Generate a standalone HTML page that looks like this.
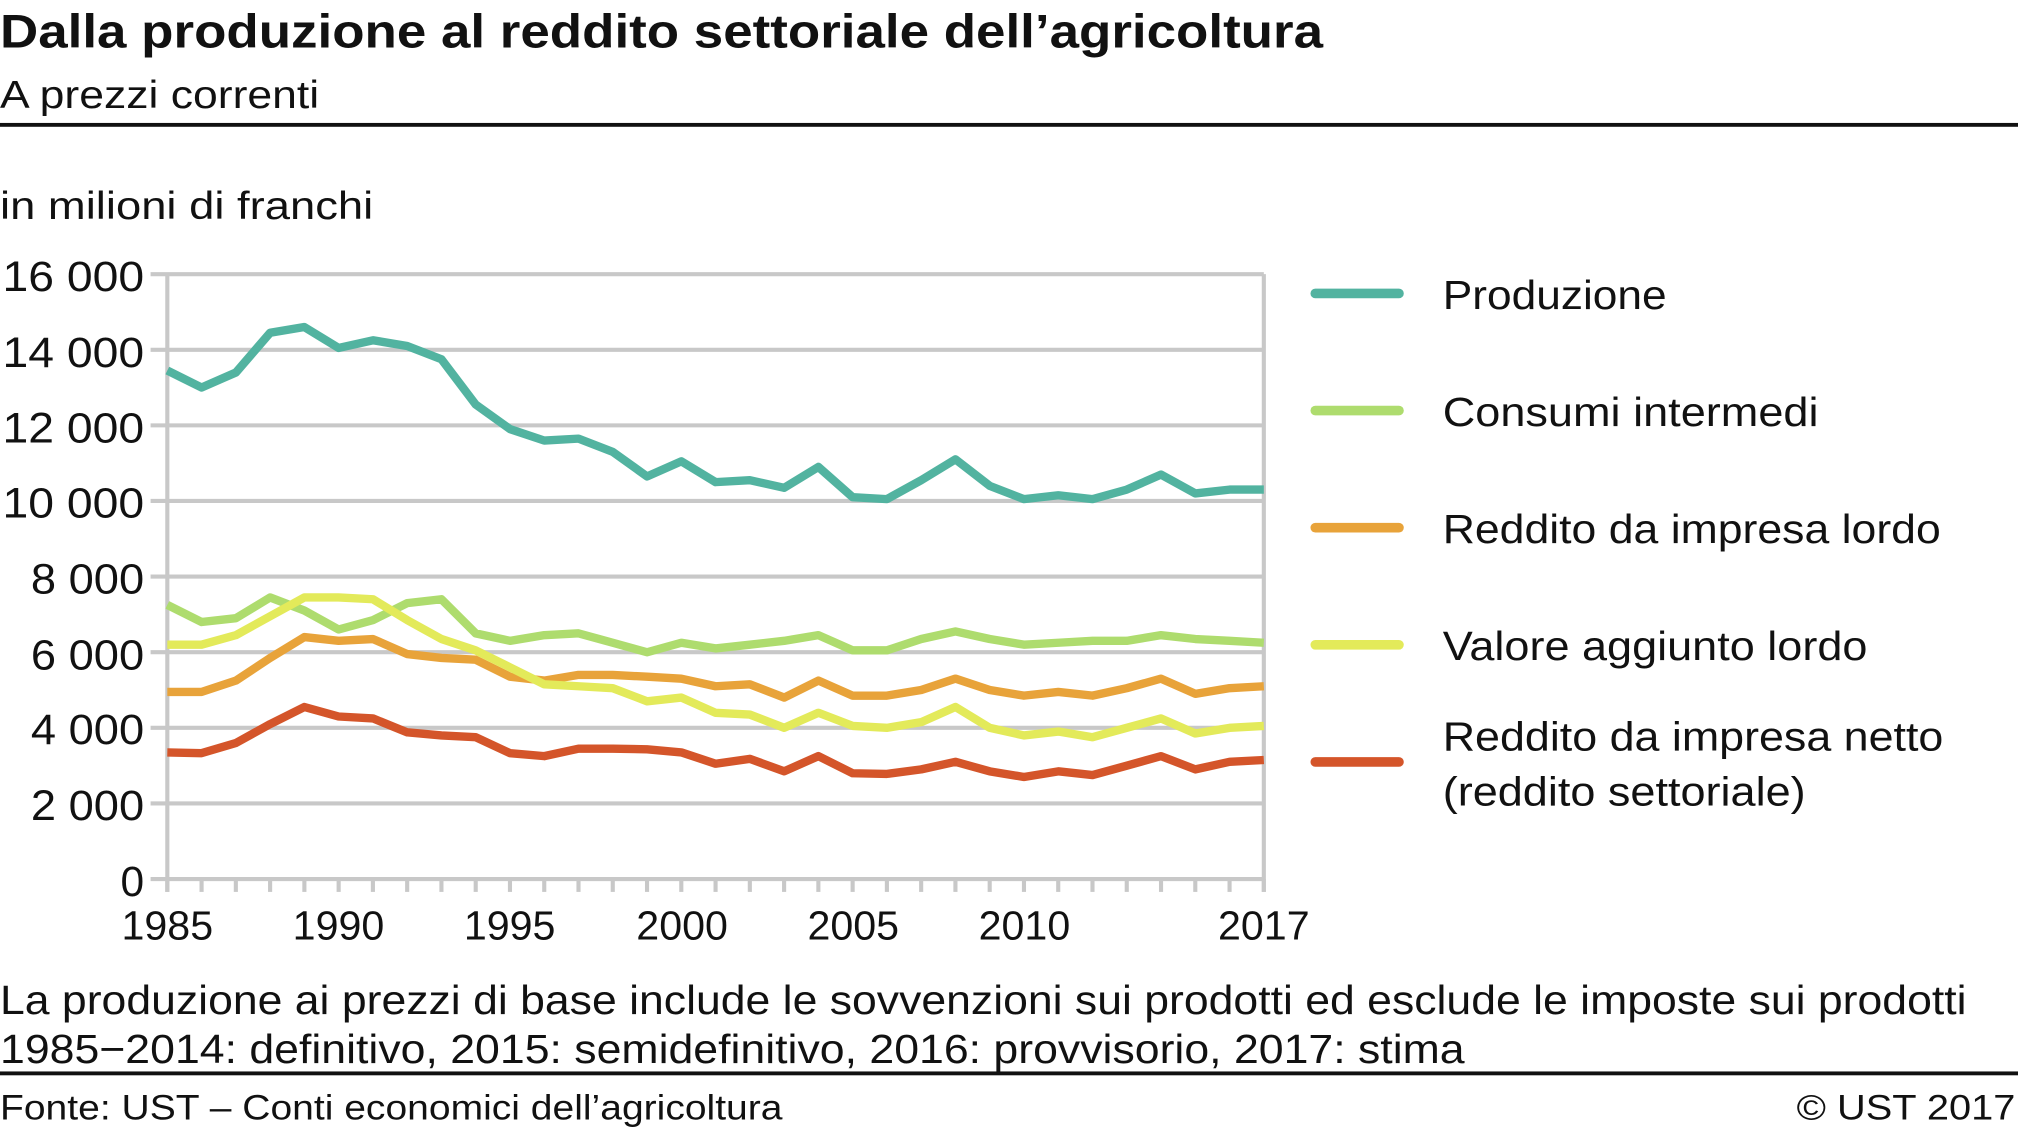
<!DOCTYPE html>
<html><head><meta charset="utf-8"><style>
html,body{margin:0;padding:0;background:#fff;}
svg{display:block;}
text{font-family:"Liberation Sans",sans-serif;fill:#111;}
</style></head><body>
<svg width="2018" height="1142" viewBox="0 0 1568 887.3" xmlns="http://www.w3.org/2000/svg">
<text x="0" y="37" font-size="37" font-weight="bold" textLength="1028" lengthAdjust="spacingAndGlyphs">Dalla produzione al reddito settoriale dell’agricoltura</text>
<text x="0" y="84" font-size="30" textLength="248" lengthAdjust="spacingAndGlyphs">A prezzi correnti</text>
<rect x="0" y="95.5" width="1568" height="3" fill="#111"/>
<text x="0" y="170" font-size="30" textLength="290" lengthAdjust="spacingAndGlyphs">in milioni di franchi</text>
<g id="grid" stroke="#c8c8c8" stroke-width="3.2" fill="none"></g>
<g id="ylab" font-size="33" text-anchor="end">
<text x="112" y="226" textLength="110" lengthAdjust="spacingAndGlyphs">16 000</text><text x="112" y="285" textLength="110" lengthAdjust="spacingAndGlyphs">14 000</text><text x="112" y="344" textLength="110" lengthAdjust="spacingAndGlyphs">12 000</text>
<text x="112" y="402" textLength="110" lengthAdjust="spacingAndGlyphs">10 000</text><text x="112" y="461" textLength="88" lengthAdjust="spacingAndGlyphs">8 000</text><text x="112" y="520" textLength="88" lengthAdjust="spacingAndGlyphs">6 000</text>
<text x="112" y="578" textLength="88" lengthAdjust="spacingAndGlyphs">4 000</text><text x="112" y="637" textLength="88" lengthAdjust="spacingAndGlyphs">2 000</text><text x="112" y="696">0</text>
</g>
<g font-size="32" text-anchor="middle">
<text x="130" y="730">1985</text><text x="263" y="730">1990</text><text x="396" y="730">1995</text>
<text x="530" y="730">2000</text><text x="663" y="730">2005</text><text x="796" y="730">2010</text>
<text x="982" y="730">2017</text>
</g>
<g id="series" fill="none" stroke-width="6.5" stroke-linejoin="round"></g>
<g stroke-width="7.5" stroke-linecap="round">
<line x1="1022" y1="228" x2="1087" y2="228" stroke="#52b3a0"/>
<line x1="1022" y1="319" x2="1087" y2="319" stroke="#aedc6e"/>
<line x1="1022" y1="410" x2="1087" y2="410" stroke="#e8a33a"/>
<line x1="1022" y1="501" x2="1087" y2="501" stroke="#e3ea5a"/>
<line x1="1022" y1="592" x2="1087" y2="592" stroke="#d4552a"/>
</g>
<g font-size="32">
<text x="1121" y="240" textLength="174" lengthAdjust="spacingAndGlyphs">Produzione</text>
<text x="1121" y="331" textLength="292" lengthAdjust="spacingAndGlyphs">Consumi intermedi</text>
<text x="1121" y="422" textLength="387" lengthAdjust="spacingAndGlyphs">Reddito da impresa lordo</text>
<text x="1121" y="513" textLength="330" lengthAdjust="spacingAndGlyphs">Valore aggiunto lordo</text>
<text x="1121" y="583" textLength="389" lengthAdjust="spacingAndGlyphs">Reddito da impresa netto</text>
<text x="1121" y="626" textLength="282" lengthAdjust="spacingAndGlyphs">(reddito settoriale)</text>
</g>
<text x="0" y="788" font-size="32" textLength="1528" lengthAdjust="spacingAndGlyphs">La produzione ai prezzi di base include le sovvenzioni sui prodotti ed esclude le imposte sui prodotti</text>
<text x="0" y="826" font-size="32" textLength="1138" lengthAdjust="spacingAndGlyphs">1985−2014: definitivo, 2015: semidefinitivo, 2016: provvisorio, 2017: stima</text>
<rect x="0" y="832.5" width="1568" height="3" fill="#111"/>
<text x="0" y="870" font-size="27" textLength="608" lengthAdjust="spacingAndGlyphs">Fonte: UST – Conti economici dell’agricoltura</text>
<text x="1566" y="870" font-size="27" text-anchor="end" textLength="170" lengthAdjust="spacingAndGlyphs">© UST  2017</text>
</svg>
<script>
var NS="http://www.w3.org/2000/svg";
function el(p,t,a){var e=document.createElementNS(NS,t);for(var k in a)e.setAttribute(k,a[k]);p.appendChild(e);return e;}
var g=document.getElementById("grid");
function Y(v){return 683-v*470/16000;}
function X(i){return 130+i*852/32;}
for(var v=2000;v<=16000;v+=2000)el(g,"line",{x1:117,y1:Y(v),x2:982,y2:Y(v)});
el(g,"line",{x1:130,y1:213,x2:130,y2:693});
el(g,"line",{x1:982,y1:213,x2:982,y2:693});
el(g,"line",{x1:117,y1:683,x2:982,y2:683});
for(var i=0;i<=32;i++)el(g,"line",{x1:X(i),y1:683,x2:X(i),y2:693});
var D=[
["#52b3a0",[13450,13000,13400,14450,14600,14050,14250,14100,13750,12550,11900,11600,11650,11300,10650,11050,10500,10550,10350,10900,10100,10050,10550,11100,10400,10050,10150,10050,10300,10700,10200,10300,10300]],
["#aedc6e",[7250,6800,6900,7450,7100,6600,6850,7300,7400,6500,6300,6450,6500,6250,6000,6250,6100,6200,6300,6450,6050,6050,6350,6550,6350,6200,6250,6300,6300,6450,6350,6300,6250]],
["#e8a33a",[4950,4950,5250,5850,6400,6300,6350,5950,5850,5800,5350,5250,5400,5400,5350,5300,5100,5150,4800,5250,4850,4850,5000,5300,5000,4850,4950,4850,5050,5300,4900,5050,5100]],
["#e3ea5a",[6200,6200,6450,6950,7450,7450,7400,6850,6350,6050,5600,5150,5100,5050,4700,4800,4400,4350,4000,4400,4050,4000,4150,4550,4000,3800,3900,3750,4000,4250,3850,4000,4050]],
["#d4552a",[3350,3330,3600,4100,4550,4300,4250,3880,3800,3750,3330,3250,3450,3450,3430,3350,3050,3180,2850,3250,2800,2780,2900,3100,2850,2700,2850,2750,3000,3250,2900,3100,3150]]
];
var s=document.getElementById("series");
D.forEach(function(d){var p=d[1].map(function(v,i){return X(i).toFixed(1)+","+Y(v).toFixed(1);}).join(" ");el(s,"polyline",{points:p,stroke:d[0]});});
</script>
</body></html>
